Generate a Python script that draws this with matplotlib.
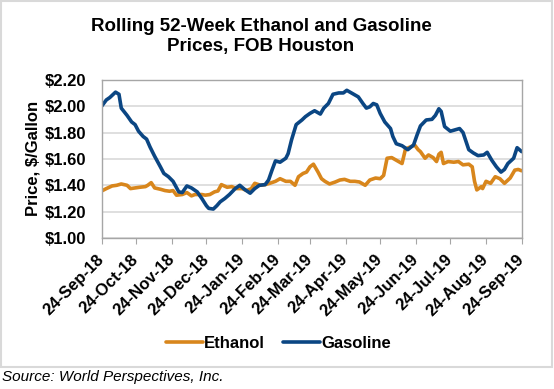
import matplotlib
matplotlib.use("Agg")
import matplotlib.pyplot as plt
import matplotlib.dates as mdates
import matplotlib.transforms as mtransforms
import pandas as pd
from matplotlib.patches import Rectangle
from matplotlib.ticker import FuncFormatter

plt.rcParams['font.family'] = ['Liberation Sans', 'DejaVu Sans']

start = pd.Timestamp('2018-09-24')

# days after 24-Sep-18
gas_days = [0, 4, 7, 12, 15, 17, 22, 26, 29, 32, 36, 39, 42, 46, 51, 54, 58, 62, 67, 70,
            74, 78, 83, 87, 91, 93, 97, 100, 103, 107, 111, 116, 120, 124, 129, 133, 137,
            142, 145, 148, 151, 155, 160, 162, 165, 169, 174, 177, 181, 185, 190, 193, 197,
            201, 206, 210, 213, 217, 223, 227, 230, 233, 236, 239, 242, 246, 251, 253, 256,
            261, 266, 271, 274, 277, 282, 287, 290, 293, 295, 298, 303, 307, 311, 314, 319,
            323, 327, 332, 335, 339, 343, 347, 350, 353, 358, 361, 363, 365]
gasoline = [2.00, 2.047, 2.065, 2.106, 2.09, 1.985, 1.93, 1.88, 1.86, 1.81, 1.77, 1.75, 1.69,
            1.62, 1.54, 1.49, 1.465, 1.43, 1.35, 1.345, 1.395, 1.38, 1.35, 1.30, 1.245, 1.225,
            1.22, 1.245, 1.275, 1.30, 1.33, 1.375, 1.40, 1.37, 1.34, 1.375, 1.40, 1.405, 1.44,
            1.515, 1.585, 1.575, 1.605, 1.64, 1.745, 1.86, 1.895, 1.92, 1.945, 1.965, 1.94,
            1.985, 2.02, 2.09, 2.10, 2.10, 2.12, 2.10, 2.07, 2.02, 1.985, 1.995, 2.02, 2.01,
            1.945, 1.88, 1.83, 1.77, 1.715, 1.70, 1.67, 1.705, 1.78, 1.85, 1.895, 1.90, 1.93,
            1.98, 1.96, 1.845, 1.81, 1.82, 1.83, 1.80, 1.67, 1.645, 1.625, 1.63, 1.65, 1.59,
            1.54, 1.50, 1.52, 1.565, 1.605, 1.685, 1.67, 1.655]

eth_days = [0, 4, 9, 13, 17, 22, 25, 29, 33, 38, 40, 43, 46, 51, 55, 59, 62, 65, 70, 74, 78,
            81, 87, 90, 94, 98, 101, 104, 109, 113, 117, 122, 126, 130, 133, 138, 142, 146,
            151, 155, 160, 164, 168, 171, 175, 178, 181, 184, 188, 191, 194, 198, 203, 207,
            211, 216, 220, 224, 229, 233, 238, 242, 245, 248, 252, 256, 261, 264, 268, 272,
            275, 277, 281, 284, 288, 291, 293, 295, 297, 301, 306, 310, 314, 319, 322, 324,
            326, 330, 331, 334, 338, 342, 346, 350, 355, 359, 362, 365]
ethanol = [1.357, 1.375, 1.395, 1.40, 1.41, 1.40, 1.375, 1.38, 1.385, 1.39, 1.40, 1.42, 1.38,
           1.37, 1.36, 1.355, 1.36, 1.325, 1.33, 1.345, 1.32, 1.33, 1.33, 1.325, 1.33, 1.35,
           1.357, 1.405, 1.385, 1.39, 1.375, 1.375, 1.36, 1.375, 1.415, 1.40, 1.405, 1.415,
           1.43, 1.45, 1.43, 1.43, 1.40, 1.465, 1.49, 1.50, 1.54, 1.56, 1.50, 1.45, 1.43,
           1.41, 1.425, 1.44, 1.445, 1.43, 1.43, 1.425, 1.40, 1.44, 1.455, 1.45, 1.475,
           1.605, 1.61, 1.59, 1.565, 1.675, 1.69, 1.705, 1.67, 1.655, 1.605, 1.63, 1.61,
           1.58, 1.635, 1.65, 1.565, 1.58, 1.575, 1.58, 1.555, 1.56, 1.54, 1.43, 1.365,
           1.39, 1.375, 1.43, 1.415, 1.465, 1.45, 1.415, 1.455, 1.515, 1.52, 1.51]

tick_dates = [start + pd.DateOffset(months=i) for i in range(13)]
y_ticks = [1.00, 1.20, 1.40, 1.60, 1.80, 2.00, 2.20]

gas_x = start + pd.to_timedelta(gas_days, unit='D')
eth_x = start + pd.to_timedelta(eth_days, unit='D')

fig = plt.figure(figsize=(5.54, 3.89), dpi=100)
ax = fig.add_axes([0.1836, 0.388, 0.7581, 0.407])

ax.plot(eth_x, ethanol, color='#D8861C', lw=2.6, label='Ethanol', solid_capstyle='round')
ax.plot(gas_x, gasoline, color='#0B4683', lw=2.6, label='Gasoline', solid_capstyle='round')

ax.set_xlim(start, start + pd.Timedelta(days=365))
ax.set_ylim(1.0, 2.2)
ax.set_yticks(y_ticks)
ax.yaxis.set_major_formatter(FuncFormatter(lambda v, p: r'\$%.2f' % v))
ax.set_xticks(tick_dates)
ax.xaxis.set_major_formatter(mdates.DateFormatter('%d-%b-%y'))
ax.grid(axis='y', color='#D9D9D9', lw=1.2)
ax.set_axisbelow(True)
for s in ax.spines.values():
    s.set_color('#A6A6A6')
    s.set_linewidth(1.0)
ax.tick_params(axis='y', length=0, pad=11, labelsize=12)
ax.tick_params(axis='x', length=4, color='#A6A6A6', pad=9.5, labelsize=12)
for t in ax.get_yticklabels():
    t.set_fontweight('bold')
shift = mtransforms.ScaledTranslation(0, 0, fig.dpi_scale_trans)
for t in ax.get_xticklabels():
    t.set_fontweight('bold')
    t.set_rotation(45)
    t.set_ha('right')
    t.set_va('center')
    t.set_rotation_mode('anchor')
    t.set_transform(t.get_transform() + shift)

ax.set_ylabel(r'Price, \$/Gallon', fontsize=12, fontweight='bold', labelpad=3)

fig.text(0.471, 0.906, 'Rolling 52-Week Ethanol and Gasoline\nPrices, FOB Houston',
         ha='center', va='center', fontsize=13.5, fontweight='bold', linespacing=1.2)

ax.legend(loc='center', bbox_to_anchor=(0.503, 0.118), bbox_transform=fig.transFigure,
          ncol=2, frameon=False, prop={'weight': 'bold', 'size': 12},
          handlelength=2.2, handletextpad=0.1, columnspacing=1.1)

fig.patches.append(Rectangle((1 / 554, 1 - 367 / 389), 551 / 554, 366 / 389,
                             transform=fig.transFigure, fill=False,
                             edgecolor='#D9D9D9', lw=1.5))
fig.text(0.004, 0.031, 'Source: World Perspectives, Inc.', fontsize=11, style='italic',
         ha='left', va='center')

fig.savefig('out.png', dpi=100)
